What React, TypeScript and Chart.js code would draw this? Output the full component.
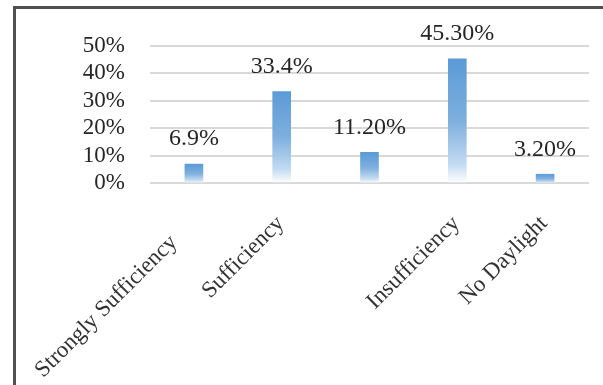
import React, { useEffect, useRef } from "react";
import { Chart, registerables } from "chart.js";

Chart.register(...registerables);

const categories: string[] = ["Strongly Sufficiency", "Sufficiency", "", "Insufficiency", "No Daylight"];
const values: number[] = [6.9, 33.4, 11.2, 45.3, 3.2];
const valueLabels: string[] = ["6.9%", "33.4%", "11.20%", "45.30%", "3.20%"];
const yMin = 0;
const yMax = 50;
const yStep = 10;

const FONT = '"Liberation Serif", "Times New Roman", serif';

const valueLabelPlugin = {
  id: "valueLabels",
  afterDatasetsDraw(chart: any) {
    const ctx = chart.ctx;
    const meta = chart.getDatasetMeta(0);
    ctx.save();
    ctx.font = `24px ${FONT}`;
    ctx.fillStyle = "#262626";
    ctx.textAlign = "center";
    ctx.textBaseline = "middle";
    meta.data.forEach((bar: any, i: number) => {
      ctx.fillText(valueLabels[i], bar.x, bar.y - 25);
    });
    ctx.restore();
  },
};

const xLabelPlugin = {
  id: "rotatedXLabels",
  afterDraw(chart: any, _args: any, opts: any) {
    const ctx = chart.ctx;
    const xs = chart.scales.x;
    const nudge: number[] = opts.nudge || [];
    ctx.save();
    ctx.font = `23px ${FONT}`;
    ctx.fillStyle = "#333333";
    ctx.textAlign = "right";
    ctx.textBaseline = "middle";
    categories.forEach((lab, i) => {
      if (!lab) return;
      const back = nudge[i] || 0;
      const x = xs.getPixelForValue(i) + opts.dx - back * Math.SQRT1_2;
      const y = chart.chartArea.bottom + opts.dy + back * Math.SQRT1_2;
      ctx.save();
      ctx.translate(x, y);
      ctx.rotate(-Math.PI / 4);
      ctx.fillText(lab, 0, 0);
      ctx.restore();
    });
    ctx.restore();
  },
};

export default function App() {
  const ref = useRef<HTMLCanvasElement | null>(null);

  useEffect(() => {
    if (!ref.current) return;
    const chart = new Chart(ref.current, {
      type: "bar",
      data: {
        labels: categories,
        datasets: [
          {
            data: values,
            barThickness: 18,
            borderWidth: 0,
            backgroundColor: (c: any) => {
              const ch = c.chart;
              if (!ch.chartArea || c.type !== "data") return "#5b9bd5";
              const ys = ch.scales.y;
              const top = ys.getPixelForValue(c.raw);
              const bottom = ys.getPixelForValue(0);
              const g = ch.ctx.createLinearGradient(0, top, 0, bottom);
              g.addColorStop(0, "#5b9bd5");
              g.addColorStop(0.5, "#7eafdf");
              g.addColorStop(0.85, "#c3dbf1");
              g.addColorStop(1, "#ffffff");
              return g;
            },
          },
        ],
      },
      options: {
        animation: false,
        responsive: false,
        devicePixelRatio: 1,
        layout: { padding: { left: 0, top: 46, right: 14, bottom: 202 } },
        plugins: {
          legend: { display: false },
          tooltip: { enabled: false },
          rotatedXLabels: { dx: -1, dy: 37, nudge: [27, 0, 0, 0, 0] },
        } as any,
        scales: {
          x: {
            display: false,
          },
          y: {
            min: yMin,
            max: yMax,
            afterFit: (s: any) => {
              s.width = 150;
            },
            grid: { color: "#d9d9d9", lineWidth: 2, drawTicks: false },
            border: { display: false },
            ticks: {
              stepSize: yStep,
              autoSkip: false,
              padding: 25,
              color: "#262626",
              font: { family: FONT, size: 23 },
              callback: (v: any) => `${v}%`,
            },
          },
        },
      },
      plugins: [valueLabelPlugin, xLabelPlugin],
    });
    return () => chart.destroy();
  }, []);

  return (
    <div
      style={{
        position: "absolute",
        left: 0,
        top: 0,
        width: 603,
        height: 385,
        overflow: "hidden",
        background: "#ffffff",
      }}
    >
      <div
        style={{
          position: "absolute",
          left: 13,
          top: 6,
          width: 800,
          height: 600,
          borderLeft: "3px solid #505050",
          borderTop: "3px solid #505050",
        }}
      />
      <canvas ref={ref} width={603} height={385} style={{ position: "absolute", left: 0, top: 0 }} />
    </div>
  );
}
